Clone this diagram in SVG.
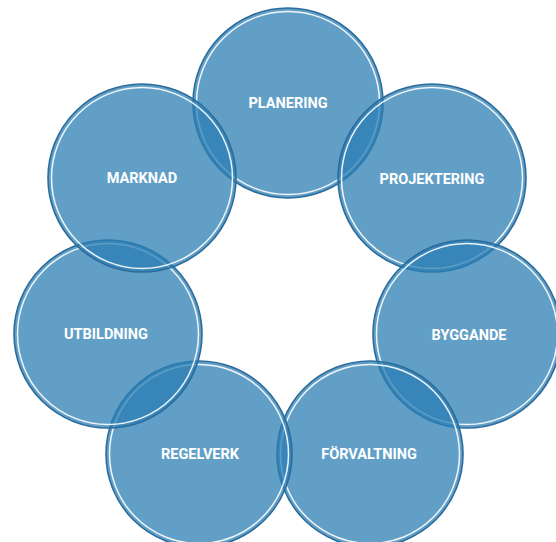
<svg xmlns="http://www.w3.org/2000/svg" width="556" height="542" viewBox="0 0 556 542">
<style>
.c{fill:#2a7db4;fill-opacity:0.74;stroke:#2c6c9c;stroke-width:1.6}
.r{fill:none;stroke:#ffffff;stroke-width:1.5;stroke-opacity:0.9}
.t{font-family:Roboto,"Liberation Sans",sans-serif;font-weight:bold;font-size:14.5px;fill:#ffffff;text-anchor:middle}
</style>
<rect width="556" height="542" fill="#ffffff"/>
<g id="planering"><circle class="c" cx="288" cy="103" r="95"/><circle class="r" cx="288" cy="103" r="91.5"/><text class="t" x="288" y="108">PLANERING</text></g>
<g id="projektering"><circle class="c" cx="432" cy="178" r="94"/><circle class="r" cx="432" cy="178" r="90.5"/><text class="t" x="432" y="184">PROJEKTERING</text></g>
<g id="byggande"><circle class="c" cx="467" cy="334" r="94"/><circle class="r" cx="467" cy="334" r="90.5"/><text class="t" x="469" y="340">BYGGANDE</text></g>
<g id="forvaltning"><circle class="c" cx="370" cy="454" r="93"/><circle class="r" cx="370" cy="454" r="89.5"/><text class="t" x="369" y="459">FÖRVALTNING</text></g>
<g id="regelverk"><circle class="c" cx="199" cy="454" r="93"/><circle class="r" cx="199" cy="454" r="89.5"/><text class="t" x="200" y="459">REGELVERK</text></g>
<g id="utbildning"><circle class="c" cx="108" cy="334" r="94"/><circle class="r" cx="108" cy="334" r="90.5"/><text class="t" x="106" y="339">UTBILDNING</text></g>
<g id="marknad"><circle class="c" cx="142" cy="178" r="94"/><circle class="r" cx="142" cy="178" r="90.5"/><text class="t" x="142" y="183">MARKNAD</text></g>
<g id="connectors"></g>
</svg>
